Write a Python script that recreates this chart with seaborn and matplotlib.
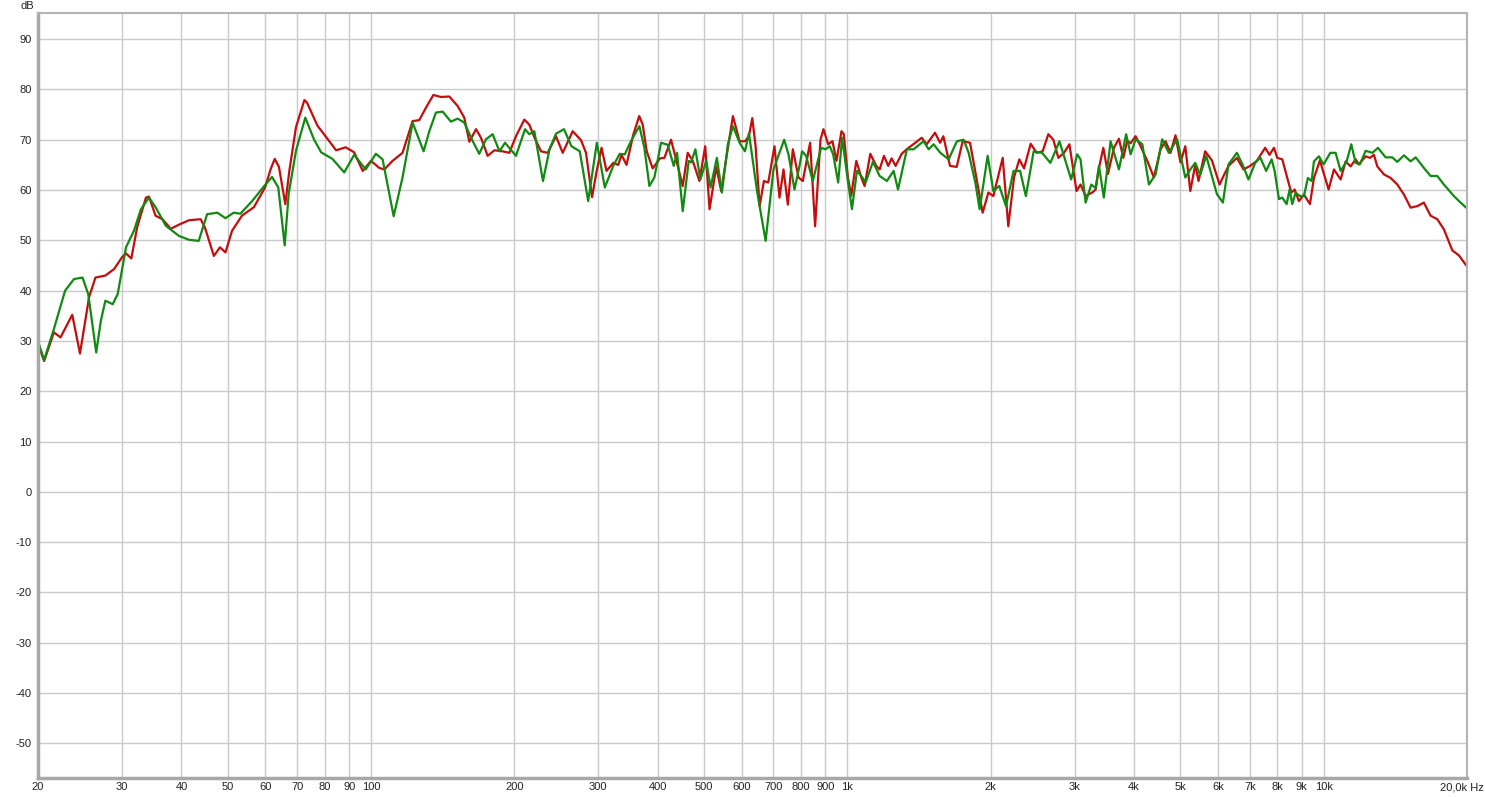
import matplotlib
matplotlib.use("Agg")
import matplotlib.pyplot as plt
import matplotlib.ticker as mticker
import pandas as pd
import seaborn as sns

# Red measurement (frequency in Hz, level in dB)
red_freq = [
    20, 20.6, 21.6, 22.3, 23.6, 24.5, 25.6, 26.4, 27.7, 28.9, 30, 30.6, 31.4, 32.3, 33.7, 34.2,
    35.3, 36.5, 38.0, 39.5, 41.5, 43.9, 44.8, 46.8, 48.2, 49.5, 51.1, 53.6, 56.8, 60, 61.5, 62.8,
    64.1, 66.1, 67.4, 69.6, 72.5, 73.4, 77.2, 79.7, 84.5, 88.5, 92.2,
    96.1, 100, 104.1, 106.7, 111, 116.5, 122.3, 126.3, 130.5, 135.2, 140.3, 146, 152.1, 157,
    160.9, 166.2, 170.2, 175.8, 181.6, 189, 195.2, 201.6, 209.9, 215, 220.3, 227.5, 235, 244.6,
    252.7, 265.2, 276.1, 282.8, 291.2, 297.8, 304.9, 312.3, 322.6, 330.5, 335.8, 344, 355.4, 365.8,
    372, 379.3, 390.4, 404.5, 413.1, 426.6, 440.6, 451.4, 462.4, 473.8, 489.3, 503.2, 513.9,
    530.7, 543.7, 558.8, 575.3, 594.2, 609.8, 621.6, 631.8, 642, 654.6, 668.4, 682.6, 703.4,
    720.6, 734.7, 750.3, 768.6, 790, 806.5, 835.6, 856, 878.4, 891.2, 911.7, 931, 949.1, 972.4,
    983.4, 1003, 1019.5, 1044.5, 1070, 1087.4, 1117.6, 1150.5, 1169.3,
    1194, 1219, 1239, 1263, 1301, 1332, 1376, 1433, 1468, 1528, 1566, 1591, 1643, 1697, 1747,
    1810, 1845, 1924, 1978, 2026, 2120, 2178, 2239, 2297, 2350, 2427, 2498, 2571, 2643, 2708,
    2774, 2851, 2926, 3029,
    3088, 3165, 3268, 3322, 3376, 3448, 3526, 3629, 3718, 3797, 3871, 3934, 4030, 4129, 4264,
    4402, 4545, 4657, 4771, 4887, 5006, 5124, 5250, 5376, 5463, 5641, 5828, 6047, 6165, 6315,
    6575, 6790, 7011, 7241, 7539, 7697,
    7867, 7993, 8189, 8389, 8554, 8692, 8875, 9092, 9361, 9543, 9824, 10000, 10245, 10512,
    10857, 11123, 11394, 11673, 11861, 12252, 12511, 12756, 12963, 13388, 13826, 14279, 14746,
    15226, 15727, 16236, 16770, 17323, 17885, 18628, 19234, 19967,
]
red_db = [
    29.4, 26.0, 31.7, 30.7, 35.2, 27.5, 38.7, 42.6, 43.0, 44.3, 46.6, 47.4, 46.4, 52.6, 58.5, 58.7,
    54.9, 54.2, 52.3, 53.1, 54.0, 54.2, 52.6, 46.9, 48.6, 47.6, 51.9, 54.9, 56.6, 60.6, 64.0, 66.2,
    64.6, 57.2, 63.8, 72.5, 77.9, 77.4, 72.8, 71.1, 67.9, 68.5, 67.5,
    63.8, 65.8, 64.4, 64.1, 65.8, 67.4, 73.7, 73.9, 76.4, 78.9, 78.5, 78.6, 76.7, 74.4,
    69.6, 72.1, 70.4, 66.8, 67.9, 67.7, 67.4, 70.7, 74.0, 73.0, 70.5, 67.7, 67.4, 70.7,
    67.4, 71.7, 69.9, 67.4, 58.6, 63.8, 68.4, 63.8, 65.4, 65.0, 67.0, 65.0, 71.0, 74.7,
    73.0, 67.7, 64.3, 66.3, 66.4, 70.0, 64.8, 60.8, 67.4, 65.8, 61.8, 68.7, 56.2,
    64.6, 59.8, 67.1, 74.7, 69.7, 69.7, 70.7, 74.3, 68.7, 56.8, 61.8, 61.5, 68.7,
    58.5, 64.1, 57.1, 68.1, 62.5, 61.8, 69.4, 52.8, 70.0, 72.1, 69.1, 69.7, 65.8, 71.7,
    71.1, 62.5, 58.9, 65.8, 62.5, 60.8, 67.2, 64.8, 64.1,
    66.8, 64.8, 66.3, 64.8, 67.2, 68.1, 69.1, 70.4, 69.1, 71.4, 69.4, 70.7, 64.8, 64.6, 69.7,
    69.4, 65.1, 55.5, 59.5, 58.8, 66.4, 52.8, 62.5, 66.1, 64.3, 69.2, 67.4, 67.7, 71.1, 70.0,
    66.4, 67.4, 69.1, 59.8,
    61.1, 58.8, 59.5, 60.1, 64.4, 68.4, 63.2, 68.4, 70.2, 66.4, 69.8, 69.3, 70.7, 68.7, 65.8,
    62.5, 68.1, 69.7, 67.4, 70.9, 65.5, 68.7, 59.8, 65.0, 61.8, 67.7, 65.9, 61.1, 62.8, 64.8,
    66.4, 64.1, 64.8, 65.8, 68.4, 67.0,
    68.4, 66.4, 66.1, 62.4, 59.5, 60.1, 57.8, 59.1, 57.2, 62.4, 65.9, 63.4, 60.1, 64.1,
    62.1, 65.7, 64.7, 66.1, 65.1, 66.7, 66.4, 67.0, 64.7, 63.1, 62.4, 61.1, 59.1,
    56.5, 56.8, 57.5, 54.9, 54.2, 52.2, 48.0, 47.0, 44.9,
]

# Green measurement
green_freq = [
    20, 20.6, 21.6, 22.8, 23.8, 24.8, 25.5, 26.5, 27.1, 27.7, 28.7, 29.4, 30.6, 31.8, 32.9, 34.2,
    35.3, 37.1, 39.5, 41.5, 43.5, 45.3, 47.6, 49.5, 51.5, 53.2, 56.3, 59.7, 62.0, 63.9, 65.9,
    67.2, 69.6, 72.8, 75.9, 78.6, 83.0, 87.9, 92.2,
    97.5, 102.4, 105.8, 111.6, 116.5, 122.3, 129, 132.6, 136.9, 141.4, 147.2, 152.1, 157, 163.6,
    168.8, 174.4, 180.1, 186.1, 191.2, 201.6, 210.6, 215, 220.3, 229.7, 237.1, 244.6, 254.2,
    263.7, 274.4, 285.8, 298, 309.7, 322.6, 332.9, 341.1, 352.2, 366.1,
    375, 384.2, 393.6, 406.5, 419.8, 432.2, 439.2, 451.4, 464.7, 470, 479.9, 491.6, 505.7,
    516.4, 532.4, 545.5, 561.5, 575.3, 594.2, 609.8, 621.6, 647.2, 673.9, 700, 737.1, 752.6,
    774.8, 793.8, 803.9, 819.6, 846.4, 881.2, 900, 919.1, 934, 956.9, 975.5, 1003, 1022.8,
    1047.9, 1070, 1092.7, 1132.2, 1169.3,
    1211, 1251, 1278, 1334, 1378, 1446, 1482, 1518, 1568, 1632, 1699, 1755, 1798, 1857, 1896,
    1971, 2026, 2085, 2154, 2234, 2306, 2371, 2462, 2564, 2669, 2789, 2951, 3039,
    3088, 3165, 3253, 3322, 3376, 3456, 3571, 3718, 3850, 3934, 4030, 4163, 4298, 4439, 4582,
    4732, 4926, 5124, 5250, 5376, 5507, 5670, 5970, 6146, 6315, 6575, 6757, 6955, 7184, 7359,
    7575, 7778,
    7892, 8058, 8189, 8362, 8484, 8595, 8734, 8918, 9092, 9268, 9436, 9543, 9775, 10000, 10328,
    10598, 10857, 11177, 11431, 11673, 11916, 12252, 12656, 13005, 13495, 13938, 14279, 14746,
    15226, 15603, 16236, 16770, 17323, 17885, 18774, 19390, 19967,
]
green_db = [
    30.0, 26.2, 32.4, 40.0, 42.3, 42.6, 39.3, 27.7, 34.0, 38.0, 37.3, 39.3, 48.6, 51.9, 56.2, 58.5,
    56.6, 52.9, 50.9, 50.1, 49.9, 55.2, 55.5, 54.4, 55.5, 55.3, 57.8, 60.8, 62.6, 60.5, 49.0,
    59.3, 67.8, 74.4, 70.1, 67.5, 66.2, 63.5, 67.0,
    64.1, 67.2, 66.1, 54.8, 62.5, 73.4, 67.7, 71.7, 75.4, 75.6, 73.6, 74.2, 73.4, 69.7,
    67.2, 70.1, 71.1, 67.7, 69.4, 66.8, 72.1, 71.1, 71.7, 61.8, 68.1, 71.2, 72.1,
    68.7, 67.7, 57.8, 69.4, 60.5, 64.8, 67.2, 67.1, 69.9, 72.7,
    68.4, 60.8, 62.5, 69.4, 69.0, 64.8, 67.4, 55.8, 65.8, 65.5, 68.1, 62.1, 65.8,
    60.5, 66.4, 59.5, 69.1, 72.7, 69.4, 67.7, 71.3, 59.5, 49.9, 64.1, 70.0, 67.1,
    60.1, 64.8, 67.7, 66.8, 61.8, 68.4, 68.1, 68.7, 67.1, 61.5, 70.4, 61.8, 56.2,
    63.8, 62.8, 61.5, 65.6, 62.8,
    61.8, 63.8, 60.1, 68.1, 68.1, 69.7, 68.1, 69.1, 67.4, 66.1, 69.7, 70.0, 67.4, 61.5, 56.2,
    66.8, 59.8, 60.8, 56.8, 63.8, 63.8, 58.8, 67.7, 67.4, 65.4, 69.7, 62.1, 67.1,
    66.1, 57.5, 61.1, 60.4, 64.8, 58.5, 69.7, 64.1, 71.1, 67.1, 70.1, 69.1, 61.1, 63.1, 70.1,
    67.4, 70.1, 62.5, 64.1, 65.4, 63.0, 66.8, 59.2, 57.5, 65.1, 67.4, 65.1, 62.1, 65.4, 66.5,
    63.8, 66.1,
    63.8, 58.2, 58.5, 57.2, 60.1, 57.2, 59.5, 58.8, 58.8, 62.4, 61.8, 65.7, 66.7, 65.1, 67.4,
    67.4, 63.8, 65.7, 69.1, 65.4, 65.1, 67.8, 67.4, 68.4, 66.5, 66.5, 65.6, 66.9,
    65.7, 66.5, 64.4, 62.8, 62.8, 61.1, 58.8, 57.5, 56.4,
]

x_ticks = [20, 30, 40, 50, 60, 70, 80, 90, 100, 200, 300, 400, 500, 600, 700, 800, 900,
           1000, 2000, 3000, 4000, 5000, 6000, 7000, 8000, 9000, 10000]
x_tick_labels = ["20", "30", "40", "50", "60", "70", "80", "90", "100", "200", "300", "400",
                 "500", "600", "700", "800", "900", "1k", "2k", "3k", "4k", "5k", "6k", "7k",
                 "8k", "9k", "10k"]
y_ticks = [-50, -40, -30, -20, -10, 0, 10, 20, 30, 40, 50, 60, 70, 80, 90]

sns.set_style("white")
plt.rcParams["font.family"] = ["Liberation Sans", "DejaVu Sans"]
plt.rcParams["axes.unicode_minus"] = False

W, H = 1485, 797
fig = plt.figure(figsize=(W / 100, H / 100), dpi=100)
ax = fig.add_axes([38 / W, 19 / H, (1467 - 38) / W, (778 - 13) / H])

red_df = pd.DataFrame({"freq": red_freq, "db": red_db})
green_df = pd.DataFrame({"freq": green_freq, "db": green_db})
sns.lineplot(data=red_df, x="freq", y="db", color="#c40d0d", linewidth=1.6,
             estimator=None, sort=False, ax=ax, solid_joinstyle="round")
sns.lineplot(data=green_df, x="freq", y="db", color="#118a11", linewidth=1.6,
             estimator=None, sort=False, ax=ax, solid_joinstyle="round")

ax.set_xscale("log")
ax.set_xlim(20, 20000)
ax.set_ylim(-56.9, 95.2)
ax.set_xticks(x_ticks)
ax.set_xticklabels(x_tick_labels)
ax.xaxis.set_minor_locator(mticker.NullLocator())
ax.set_yticks(y_ticks)
ax.set_xlabel("")
ax.set_ylabel("")
ax.grid(True, color="#cacaca", linewidth=1.0)
ax.set_axisbelow(True)
ax.tick_params(axis="both", length=0, labelsize=8, labelcolor="#222222")
ax.tick_params(axis="y", pad=4.5)
ax.tick_params(axis="x", pad=3)

for side in ["left", "bottom"]:
    ax.spines[side].set_color("#a8a8a8")
    ax.spines[side].set_linewidth(2.5)
for side in ["top", "right"]:
    ax.spines[side].set_color("#b4b4b4")
    ax.spines[side].set_linewidth(1.5)

ax.annotate("20,0k Hz", xy=(20000, 0), xycoords=("data", "axes fraction"),
            xytext=(-5, -5), textcoords="offset pixels", ha="center", va="top",
            fontsize=8, color="#222222")
fig.text(27 / W, 1 - 6 / H, "dB", ha="center", va="center", fontsize=8, color="#222222")

fig.savefig("out.png", dpi=100)
